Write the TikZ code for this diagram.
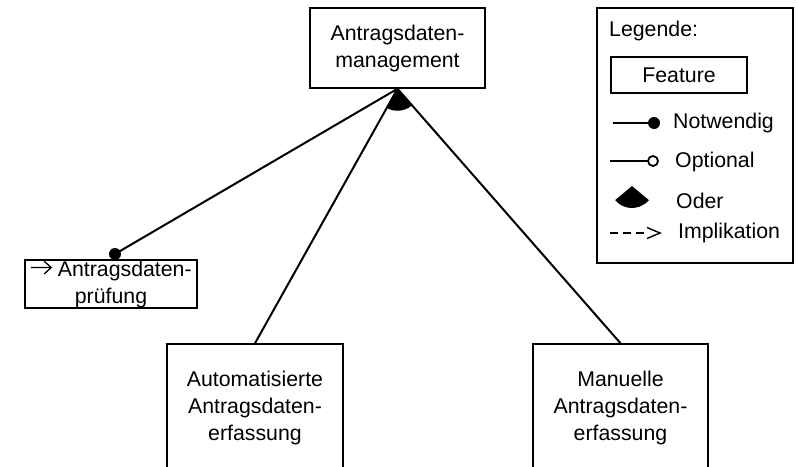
\documentclass[tikz,border=0pt]{standalone}
\usepackage{fontspec}
\setmainfont{Liberation Sans}
\usetikzlibrary{arrows.meta}
\newcommand{\implarrow}{\raisebox{1pt}{\tikz[baseline=0pt]\draw[line width=1.3pt]
  (0,0.35em) -- (0.95em,0.35em) (0.62em,0.05em) -- (0.95em,0.35em) -- (0.62em,0.65em);}}
\begin{document}
\begin{tikzpicture}[x=1pt,y=-1pt,
  every node/.style={font=\fontsize{21.3}{27}\selectfont, inner sep=0pt},
  feature/.style={draw, rectangle, align=center, line width=1.5pt},
  link/.style={line width=2pt},
  lbl/.style={anchor=base west},
]
\useasboundingbox (0,0) rectangle (798,466);
\clip (0,0) rectangle (798,466);

% feature tree
\node[feature, minimum width=175, minimum height=80] (top) at (397.5,48)
  {Antragsdaten-\\management};
\node[feature, minimum width=172, minimum height=48] (pruef) at (111,284)
  {\implarrow\hspace{6pt}Antragsdaten-\\prüfung};
\node[feature, minimum width=176, minimum height=128] (auto) at (255,408)
  {Automatisierte\\Antragsdaten-\\erfassung};
\node[feature, minimum width=175, minimum height=128] (man) at (620.5,408)
  {Manuelle\\Antragsdaten-\\erfassung};

\coordinate (dot) at (115,254);
\draw[link] (top.south) -- (dot);
\fill (dot) circle (6);
\draw[link] (top.south) -- (auto.north);
\draw[link] (top.south) -- (man.north);
% or-group marker between the two alternatives
\fill (top.south) -- ++(119:22) arc[start angle=119, end angle=49, radius=22] -- cycle;

% legend
\node[draw, rectangle, line width=1.5pt, minimum width=196, minimum height=255] (legend) at (695,135.5) {};
\node[lbl] (lgtitle) at (609,36) {Legende:};
\node[feature, minimum width=136, minimum height=36] (lgfeat) at (679,75) {Feature};

\coordinate (n1) at (613,123);
\coordinate (n2) at (654,123);
\draw[link] (n1) -- (n2);
\fill (n2) circle (6);
\node[lbl] (lgnot) at (673,128) {Notwendig};

\coordinate (o1) at (610,161);
\coordinate (o2) at (653,161);
\draw[link] (o1) -- ([xshift=-5]o2);
\draw[line width=1.8pt, fill=white] (o2) circle (5);
\node[lbl] (lgopt) at (675,167) {Optional};

\coordinate (or) at (632,186);
\fill (or) -- ++(40:22) arc[start angle=40, end angle=140, radius=22] -- cycle;
\node[lbl] (lgor) at (676,208) {Oder};

\coordinate (i1) at (610,233);
\coordinate (i2) at (660,233);
\draw[line width=1.4pt, dash pattern=on 8pt off 5pt] (i1) -- ([xshift=-12]i2);
\draw[line width=1.4pt] ([xshift=-13,yshift=-5.5]i2) -- (i2) -- ([xshift=-13,yshift=5.5]i2);
\node[lbl] (lgimp) at (678,238) {Implikation};
\end{tikzpicture}
\end{document}
